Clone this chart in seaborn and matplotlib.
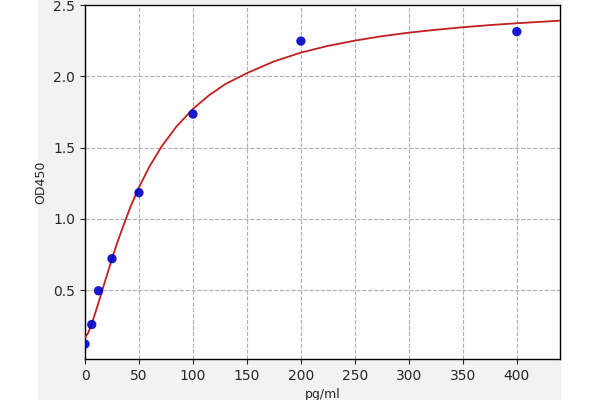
import matplotlib
matplotlib.use("Agg")
import matplotlib.pyplot as plt
import seaborn as sns
import pandas as pd
from matplotlib.patches import Rectangle

# Standard points (concentration pg/ml vs OD450)
conc = [0, 6.25, 12.5, 25, 50, 100, 200, 400]
od450 = [0.121, 0.258, 0.495, 0.72, 1.183, 1.735, 2.247, 2.313]

# Fitted curve
curve_x = [0, 3, 6.25, 9, 12.5, 18, 25, 30, 35, 42, 50, 60, 71, 85, 100,
           115, 130, 150, 175, 200, 225, 250, 275, 300, 325, 350, 375, 400, 440]
curve_y = [0.165, 0.20, 0.265, 0.327, 0.411, 0.548, 0.719, 0.835, 0.94, 1.081,
           1.221, 1.370, 1.508, 1.650, 1.771, 1.867, 1.945, 2.022, 2.104,
           2.166, 2.213, 2.250, 2.281, 2.306, 2.326, 2.344, 2.359, 2.372, 2.390]

pts = pd.DataFrame({"pg/ml": conc, "OD450": od450})
fit = pd.DataFrame({"pg/ml": curve_x, "OD450": curve_y})

sns.set_style("white")
plt.rcParams['font.family'] = ['DejaVu Sans']

fig = plt.figure(figsize=(6, 4), dpi=100, facecolor="white")
# grey panel behind the plot
fig.patches.append(Rectangle((38 / 600, 0), (560 - 38) / 600, 1,
                             transform=fig.transFigure, color="#f2f2f2", zorder=-10))
ax = fig.add_axes([85 / 600, 1 - 359 / 400, 475 / 600, 354 / 400])
ax.set_zorder(1)
ax.set_facecolor("white")

sns.lineplot(data=fit, x="pg/ml", y="OD450", ax=ax, color="#c41e1e",
             linewidth=1.3, sort=True, zorder=3)
sns.scatterplot(data=pts, x="pg/ml", y="OD450", ax=ax, color="#0000c8",
                s=45, edgecolor="none", alpha=0.9, zorder=4)

ax.set_xlim(0, 440)
ax.set_ylim(0.016, 2.5)
ax.set_xticks([0, 50, 100, 150, 200, 250, 300, 350, 400])
ax.set_yticks([0.5, 1.0, 1.5, 2.0, 2.5])
ax.grid(True, linestyle="--", color="#b0b0b0", linewidth=0.8)
ax.set_axisbelow(True)
for s in ax.spines.values():
    s.set_visible(True)
    s.set_color("black")
    s.set_linewidth(1.0)
ax.tick_params(axis="both", which="both", direction="out", length=3.5,
               width=0.8, labelsize=10, left=True, bottom=True)
ax.set_xlabel("pg/ml", fontsize=9)
ax.set_ylabel("OD450", fontsize=9)

plt.savefig("out.png", dpi=100)
plt.close()
